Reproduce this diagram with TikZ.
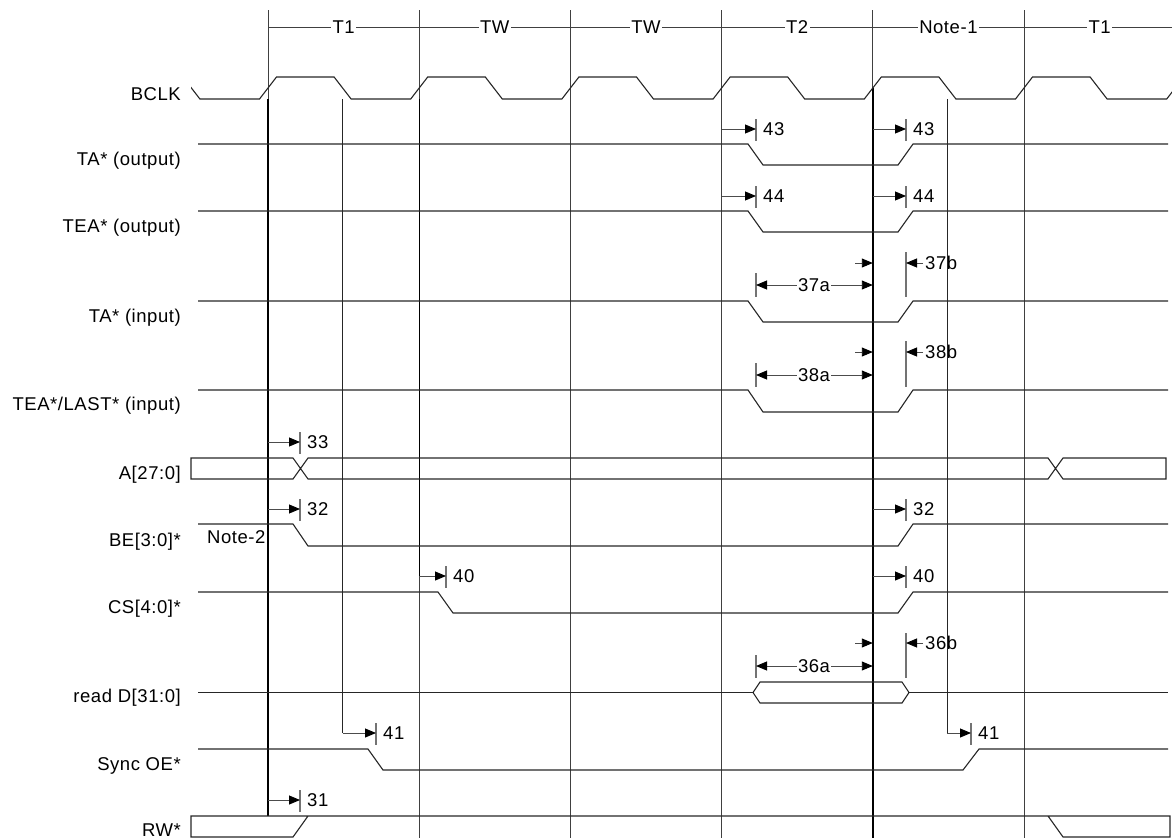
\documentclass[tikz,border=0pt]{standalone}
\usepackage{fontspec}
\newfontfamily\lblfont[LetterSpace=3]{Liberation Sans}
\newcommand\lblsize{\lblfont\fontsize{18.5}{21}\selectfont}
\usetikzlibrary{arrows.meta}
\tikzset{
  sig/.style={line width=1.1pt, black!85, line join=miter},
  gridl/.style={line width=0.8pt, black!75},
  refl/.style={line width=1.4pt, black},
  extral/.style={line width=1pt, black!85},
  barl/.style={line width=1.1pt, black!55},
  shaft/.style={line width=0.9pt, black!70, -{Triangle[length=11pt,width=9pt,black]}},
  dshaft/.style={line width=0.9pt, black!70, {Triangle[length=11pt,width=9pt,black]}-{Triangle[length=11pt,width=9pt,black]}},
  num/.style={font=\lblsize, anchor=west, inner sep=0pt},
  midlab/.style={font=\lblsize, fill=white, inner sep=1pt},
  hdr/.style={font=\lblsize, fill=white, inner sep=1.5pt},
  siglab/.style={font=\lblsize, anchor=base east, inner sep=0pt},
}
\begin{document}
\begin{tikzpicture}[x=1pt,y=-1pt]
\useasboundingbox (0,0) rectangle (1172,838);
% cycle boundary lines
\foreach \x in {419.2,570.4,721.6,872.8,1024} \draw[gridl] (\x,10) -- (\x,838);
\draw[gridl] (268,10) -- (268,816);
% reference lines from clock edges
\draw[refl] (268,99) -- (268,816);
\draw[refl] (419.2,99) -- (419.2,576);
\draw[refl] (872.8,88) -- (872.8,838);
% header
\draw[gridl] (268,27) -- (1172,27);
\node[hdr] (h1) at (343.6,27) {T1};
\node[hdr] (h2) at (494.8,27) {TW};
\node[hdr] (h3) at (646,27) {TW};
\node[hdr] (h4) at (797.2,27) {T2};
\node[hdr] (h5) at (948.4,27) {Note-1};
\node[hdr] (h6) at (1099.6,27) {T1};
% clock
\begin{scope}
\clip (191,60) rectangle (1172,110);
\draw[sig] (100,99) \foreach \k in {-1,...,6}{ -- ({259.5+151.2*\k},99) -- ({276.5+151.2*\k},77) -- ({334.1+151.2*\k},77) -- ({351.1+151.2*\k},99)};
\end{scope}
% signal labels
\node[siglab] (lclk) at (181,100) {BCLK};
\node[siglab] (ltao) at (181,165) {TA*\ (output)};
\node[siglab] (lteao) at (181,232) {TEA*\ (output)};
\node[siglab] (ltai) at (181,322) {TA*\ (input)};
\node[siglab] (lteai) at (181,410) {TEA*/LAST*\ (input)};
\node[siglab] (la) at (181,479) {A[27:0]};
\node[siglab] (lbe) at (181,546) {BE[3:0]*};
\node[siglab] (lcs) at (181,613) {CS[4:0]*};
\node[siglab] (ld) at (181,702) {read D[31:0]};
\node[siglab] (loe) at (181,770) {Sync OE*};
\node[siglab] (lrw) at (181,836) {RW*};
\node[font=\lblsize, anchor=base west, inner sep=0pt] (note2) at (207,543) {Note-2};
% waveforms
\draw[sig] (198,144) -- (748,144) -- (763,165) -- (898,165) -- (913,144) -- (1168,144);
\draw[sig] (198,211) -- (748,211) -- (763,232) -- (898,232) -- (913,211) -- (1168,211);
\draw[sig] (198,301) -- (748,301) -- (763,322) -- (898,322) -- (913,301) -- (1168,301);
\draw[sig] (198,390) -- (748,390) -- (763,412) -- (898,412) -- (913,390) -- (1168,390);
\draw[sig] (191,458) -- (293,458) -- (308,479) -- (1048,479) -- (1063,458) -- (1166,458) -- (1166,479) -- (1063,479) -- (1048,458) -- (308,458) -- (293,479) -- (191,479) -- cycle;
\draw[sig] (198,524) -- (293,524) -- (308,546) -- (898,546) -- (913,524) -- (1168,524);
\draw[sig] (198,592) -- (438,592) -- (453,613) -- (898,613) -- (913,592) -- (1168,592);
\draw[sig] (198,692.5) -- (753,692.5);
\draw[sig] (909,692.5) -- (1168,692.5);
\draw[sig] (753,692.5) -- (760,682) -- (902,682) -- (909,692.5) -- (902,703) -- (760,703) -- cycle;
\draw[sig] (198,749) -- (368,749) -- (383,770) -- (963,770) -- (979,749) -- (1168,749);
\draw[sig] (1048,816) -- (1063,837) -- (1170,837) -- (1170,816) -- (191,816) -- (191,837) -- (293,837) -- (308,816);
% extra reference lines (falling clock edges)
\draw[extral] (342.6,99) -- (342.6,733);
\draw[extral] (947.4,99) -- (947.4,733);
% bars
\foreach \x/\a/\b in {756/119/141, 906/119/141, 756/186/208, 906/186/208,
  906/252/297, 756/273/297, 906/341/387, 756/363/387,
  300/432/454, 300/499/521, 906/499/521, 446/566/588, 906/566/588,
  906/633/678, 756/655/678, 376/723/745, 971/723/745, 300/790/812}
  \draw[barl] (\x,\a) -- (\x,\b);
% timing arrows
\draw[shaft] (721.6,129) -- (756,129);  \node[num] (n43a) at (763,129) {43};
\draw[shaft] (872.8,129) -- (906,129);  \node[num] (n43b) at (913,129) {43};
\draw[shaft] (721.6,196) -- (756,196);  \node[num] (n44a) at (763,196) {44};
\draw[shaft] (872.8,196) -- (906,196);  \node[num] (n44b) at (913,196) {44};
\draw[shaft] (855,263) -- (872.8,263);
\draw[shaft] (923,263) -- (906,263);    \node[num] (n37b) at (925,263) {37b};
\draw[dshaft] (756,285) -- (872.8,285); \node[midlab] (n37a) at (814,285) {37a};
\draw[shaft] (855,352) -- (872.8,352);
\draw[shaft] (923,352) -- (906,352);    \node[num] (n38b) at (925,352) {38b};
\draw[dshaft] (756,375) -- (872.8,375); \node[midlab] (n38a) at (814,375) {38a};
\draw[shaft] (268,442) -- (300,442);    \node[num] (n33) at (307,442) {33};
\draw[shaft] (268,509) -- (300,509);    \node[num] (n32a) at (307,509) {32};
\draw[shaft] (872.8,509) -- (906,509);  \node[num] (n32b) at (913,509) {32};
\draw[shaft] (419.2,576) -- (446,576);  \node[num] (n40a) at (453,576) {40};
\draw[shaft] (872.8,576) -- (906,576);  \node[num] (n40b) at (913,576) {40};
\draw[shaft] (855,643) -- (872.8,643);
\draw[shaft] (923,643) -- (906,643);    \node[num] (n36b) at (925,643) {36b};
\draw[dshaft] (756,666) -- (872.8,666); \node[midlab] (n36a) at (814,666) {36a};
\draw[shaft] (342.6,733) -- (376,733);  \node[num] (n41a) at (383,733) {41};
\draw[shaft] (947.4,733) -- (971,733);  \node[num] (n41b) at (978,733) {41};
\draw[shaft] (268,800) -- (300,800);    \node[num] (n31) at (307,800) {31};
\end{tikzpicture}
\end{document}
